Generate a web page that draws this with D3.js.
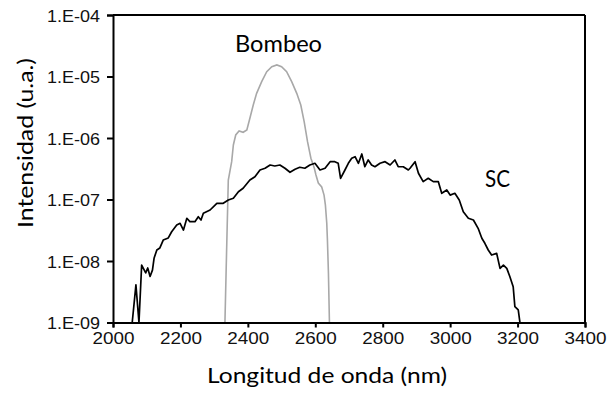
<!DOCTYPE html>
<html><head><meta charset="utf-8">
<script src="https://cdn.jsdelivr.net/npm/d3@7"></script>
<style>body{margin:0;background:#fff}svg{display:block}</style>
</head><body>
<svg id="c" width="608" height="394"></svg>
<script>
// Data
const scWavelength = [2057,2068,2077,2085,2090,2097,2103,2110,2117,2122,2130,2139,2149,2164,2174,2189,2199,2209,2219,2228,2243,2253,2261,2268,2288,2308,2327,2342,2357,2372,2386,2406,2421,2436,2451,2466,2480,2495,2510,2525,2540,2554,2569,2584,2599,2614,2629,2644,2658,2668,2675,2688,2698,2708,2718,2728,2738,2747,2757,2767,2777,2792,2807,2822,2836,2846,2861,2876,2881,2896,2906,2920,2935,2950,2965,2975,2990,3000,3014,3027,3039,3054,3069,3083,3094,3103,3113,3123,3138,3148,3158,3168,3177,3187,3192,3202,3207];
const scIntensity = [1e-9,4.1e-9,1e-9,8.6e-9,7.6e-9,6.4e-9,7.7e-9,5.6e-9,7.1e-9,1.12e-8,1.51e-8,1.63e-8,2.19e-8,2.37e-8,2.99e-8,3.85e-8,4.1e-8,3.19e-8,4.95e-8,4.36e-8,4.36e-8,5.25e-8,4.64e-8,5.97e-8,6.75e-8,8.67e-8,8.67e-8,9.8e-8,1.05e-7,1.34e-7,1.52e-7,2.07e-7,2.35e-7,3.02e-7,3.22e-7,3.64e-7,3.51e-7,3.64e-7,3.22e-7,2.77e-7,3.1e-7,3.34e-7,3.22e-7,3.64e-7,3.88e-7,3.02e-7,3.22e-7,4.12e-7,4.12e-7,3.88e-7,2.21e-7,3.02e-7,3.88e-7,4.68e-7,4.97e-7,3.88e-7,5.5e-7,3.41e-7,4.39e-7,3.64e-7,3.41e-7,3.88e-7,4.12e-7,3.64e-7,4.39e-7,3.41e-7,3.41e-7,3.02e-7,3.22e-7,4.12e-7,2.67e-7,1.95e-7,2.21e-7,1.95e-7,1.95e-7,1.26e-7,1.43e-7,1.18e-7,1.26e-7,9.8e-8,6.3e-8,4.95e-8,4.64e-8,3.4e-8,2.34e-8,1.94e-8,1.51e-8,1.25e-8,1.33e-8,7.6e-9,8.6e-9,7.6e-9,5.6e-9,3.82e-9,1.81e-9,1.6e-9,1e-9];
const pumpWavelength = [2332,2337,2342,2352,2357,2364,2374,2386,2397,2406,2416,2426,2441,2456,2471,2486,2500,2515,2530,2545,2557,2567,2577,2587,2597,2602,2609,2619,2626,2630,2634,2636,2639,2642];
const pumpIntensity = [1e-9,1.51e-8,2.07e-7,4.12e-7,7.7e-7,1.12e-6,1.3e-6,1.24e-6,1.35e-6,2.09e-6,3.44e-6,5.33e-6,8.23e-6,1.2e-5,1.44e-5,1.54e-5,1.44e-5,1.2e-5,8.23e-6,5.33e-6,3.44e-6,1.84e-6,8.7e-7,4.68e-7,3.25e-7,2.5e-7,1.85e-7,1.6e-7,1.18e-7,8.1e-8,4.15e-8,2.19e-8,6.4e-9,1e-9];
const yTickValues = [1e-9,1e-8,1e-7,1e-6,1e-5,1e-4];
const yTickLabels = ["1.E-09","1.E-08","1.E-07","1.E-06","1.E-05","1.E-04"];
const xTickValues = [2000,2200,2400,2600,2800,3000,3200,3400];

const svg = d3.select("#c");
const L=113,R=585,T=15,B=322.5;
const x = d3.scaleLinear().domain([2000,3400]).range([L,R]);
const y = d3.scaleLog().domain([1e-9,1e-4]).range([B,T]);

const line = d3.line().x(d=>x(d[0])).y(d=>y(d[1]));
svg.append("path").datum(pumpWavelength.map((w,i)=>[w,pumpIntensity[i]]))
  .attr("d",line).attr("fill","none").attr("stroke","#a8a8a8").attr("stroke-width",1.6);
svg.append("path").datum(scWavelength.map((w,i)=>[w,scIntensity[i]]))
  .attr("d",line).attr("fill","none").attr("stroke","#000").attr("stroke-width",1.7).attr("stroke-linejoin","round");

// frame
svg.append("line").attr("x1",L).attr("x2",R).attr("y1",T).attr("y2",T).attr("stroke","#000").attr("stroke-width",2);
svg.append("line").attr("x1",R).attr("x2",R).attr("y1",T).attr("y2",B).attr("stroke","#000").attr("stroke-width",2);

const ya = svg.append("g").attr("transform",`translate(${L},0)`)
  .call(d3.axisLeft(y).tickValues(yTickValues).tickFormat((d,i)=>yTickLabels[i]).tickSizeOuter(0).tickSize(6).tickPadding(7));
const xa = svg.append("g").attr("transform",`translate(0,${B})`)
  .call(d3.axisBottom(x).tickValues(xTickValues).tickFormat(d=>d).tickSizeOuter(0).tickSize(5).tickPadding(5));
[ya,xa].forEach(a=>{
  a.select(".domain").attr("stroke","#000").attr("stroke-width",2);
  a.selectAll(".tick line").attr("stroke","#000").attr("stroke-width",2);
  a.selectAll("text").attr("font-family","Liberation Sans, Arial, sans-serif").attr("font-size",17).attr("fill","#111");
});
ya.selectAll("text").attr("textLength",53).attr("lengthAdjust","spacingAndGlyphs").attr("dy","0.36em");
xa.selectAll("text").attr("textLength",42).attr("lengthAdjust","spacingAndGlyphs").attr("dy","0.68em");

const tf = "Lato, 'Open Sans', sans-serif";
svg.append("text").attr("x",327).attr("y",383).attr("text-anchor","middle")
  .attr("font-family",tf).attr("font-size",21).attr("textLength",240).attr("lengthAdjust","spacingAndGlyphs")
  .text("Longitud de onda (nm)");
svg.append("text").attr("transform","translate(33,143) rotate(-90)").attr("text-anchor","middle")
  .attr("font-family",tf).attr("font-size",21).attr("textLength",170).attr("lengthAdjust","spacingAndGlyphs")
  .text("Intensidad (u.a.)");
svg.append("text").attr("x",235).attr("y",52).attr("font-family",tf).attr("font-size",23)
  .attr("textLength",87).attr("lengthAdjust","spacingAndGlyphs").text("Bombeo");
svg.append("text").attr("x",485).attr("y",187).attr("font-family",tf).attr("font-size",23)
  .attr("textLength",25).attr("lengthAdjust","spacingAndGlyphs").text("SC");
</script>
</body></html>
